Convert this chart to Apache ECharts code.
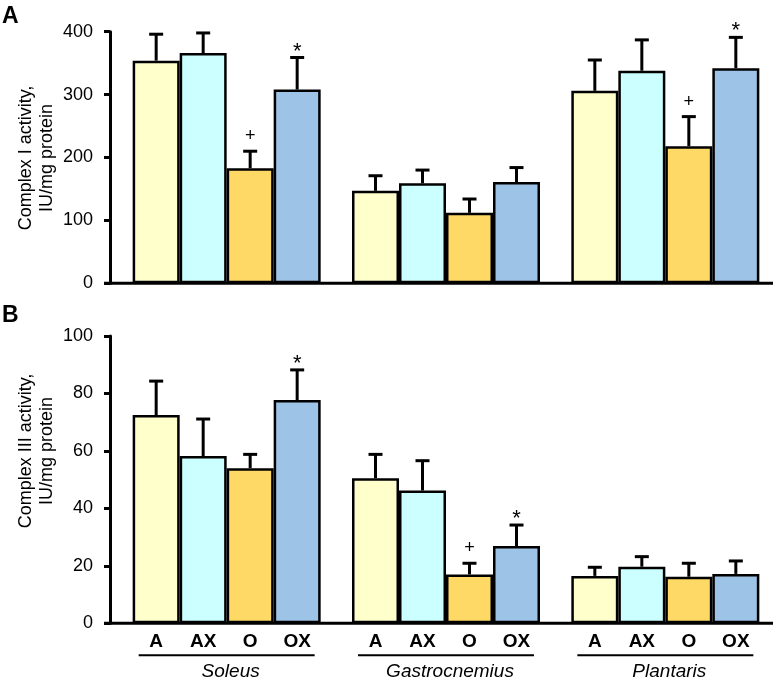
<!DOCTYPE html>
<html>
<head>
<meta charset="utf-8">
<script src="https://cdn.jsdelivr.net/npm/echarts@6/dist/echarts.min.js"></script>
<style>
html, body { margin: 0; padding: 0; background: #fff; }
#chart { width: 775px; height: 678px; }
</style>
</head>
<body>
<div id="chart"></div>
<script>
var muscles = ["Soleus", "Gastrocnemius", "Plantaris"];
var treatments = ["A", "AX", "O", "OX"];
var colors = ["#FFFFCC", "#CCFFFF", "#FFD966", "#9DC3E6"];

// Complex I activity (panel A)
var c1A  = [354, 147, 306];
var c1AX = [366, 159, 338];
var c1O  = [183, 112, 218];
var c1OX = [308, 161, 342];
var c1A_err  = [42, 24, 49];
var c1AX_err = [32, 21, 49];
var c1O_err  = [27, 22, 47];
var c1OX_err = [51, 23, 49];
var c1O_sig  = ["+", "", "+"];
var c1OX_sig = ["*", "", "*"];

// Complex III activity (panel B)
var c3A  = [72.5, 50.5, 16.5];
var c3AX = [58.2, 46.2, 19.7];
var c3O  = [54.0, 17.0, 16.2];
var c3OX = [77.7, 26.9, 17.2];
var c3A_err  = [11.8, 8.3, 3.0];
var c3AX_err = [12.9, 10.4, 3.5];
var c3O_err  = [4.8, 3.9, 4.7];
var c3OX_err = [10.5, 7.3, 4.5];
var c3O_sig  = ["", "+", ""];
var c3OX_sig = ["*", "*", ""];

var c1Ticks = [0, 100, 200, 300, 400];
var c3Ticks = [0, 20, 40, 60, 80, 100];

var FONT = '"Liberation Sans", Arial, sans-serif';
var BAR_W = 47;

var panels = [
    {values: [c1A, c1AX, c1O, c1OX], errs: [c1A_err, c1AX_err, c1O_err, c1OX_err],
     sigs: [null, null, c1O_sig, c1OX_sig]},
    {values: [c3A, c3AX, c3O, c3OX], errs: [c3A_err, c3AX_err, c3O_err, c3OX_err],
     sigs: [null, null, c3O_sig, c3OX_sig]}
];

function makeErrorRender(ti) {
    return function (params, api) {
        var cx = api.coord([api.value(0), 0])[0] + (ti - 1.5) * BAR_W;
        var top = api.coord([api.value(0), api.value(1)]);
        var tip = api.coord([api.value(0), api.value(1) + api.value(2)]);
        var sig = api.value(3);
        var children = [
            {type: "line", shape: {x1: cx, y1: top[1], x2: cx, y2: tip[1]},
             style: {stroke: "#000", lineWidth: 3}},
            {type: "line", shape: {x1: cx - 7, y1: tip[1], x2: cx + 7, y2: tip[1]},
             style: {stroke: "#000", lineWidth: 3}}
        ];
        if (sig === "*") {
            children.push({type: "text", x: cx, y: tip[1] - 6,
                style: {text: "*", font: "22px " + FONT, fill: "#000",
                        textAlign: "center", textVerticalAlign: "middle"}});
        } else if (sig === "+") {
            children.push({type: "text", x: cx, y: tip[1] - 15,
                style: {text: "+", font: "18px " + FONT, fill: "#000",
                        textAlign: "center", textVerticalAlign: "middle"}});
        }
        return {type: "group", children: children};
    };
}

var series = [];
for (var p = 0; p < panels.length; p++) {
    for (var ti = 0; ti < treatments.length; ti++) {
        series.push({
            name: treatments[ti],
            type: "bar",
            xAxisIndex: p,
            yAxisIndex: p,
            barWidth: BAR_W,
            barGap: "0%",
            data: panels[p].values[ti],
            itemStyle: {color: colors[ti], borderColor: "#000", borderWidth: 2.5},
            z: 2
        });
        var errData = [];
        for (var g = 0; g < muscles.length; g++) {
            var s = panels[p].sigs[ti] ? panels[p].sigs[ti][g] : "";
            errData.push([g, panels[p].values[ti][g], panels[p].errs[ti][g], s]);
        }
        series.push({
            type: "custom",
            xAxisIndex: p,
            yAxisIndex: p,
            renderItem: makeErrorRender(ti),
            dimensions: ["x", "y", "err", {name: "sig", type: "ordinal"}],
            encode: {x: 0, y: 1},
            data: errData,
            z: 3,
            silent: true
        });
    }
}

// bottom labels of panel B: treatment names, underline, muscle name
series.push({
    type: "custom",
    xAxisIndex: 1,
    yAxisIndex: 1,
    clip: false,
    silent: true,
    data: muscles.map(function (m, i) { return [i, 0]; }),
    renderItem: function (params, api) {
        var base = api.coord([api.value(0), 0]);
        var children = [];
        for (var t = 0; t < treatments.length; t++) {
            children.push({type: "text", x: base[0] + (t - 1.5) * BAR_W, y: base[1] + 18,
                style: {text: treatments[t], font: "bold 19px " + FONT, fill: "#000",
                        textAlign: "center", textVerticalAlign: "middle"}});
        }
        children.push({type: "line",
            shape: {x1: base[0] - 88, y1: base[1] + 32, x2: base[0] + 88, y2: base[1] + 32},
            style: {stroke: "#000", lineWidth: 2}});
        children.push({type: "text", x: base[0] + 4, y: base[1] + 48,
            style: {text: muscles[params.dataIndex], font: "italic 19px " + FONT, fill: "#000",
                    textAlign: "center", textVerticalAlign: "middle"}});
        return {type: "group", children: children};
    },
    z: 3
});

function yAxisOf(idx, ticks) {
    return {
        type: "value",
        gridIndex: idx,
        min: ticks[0],
        max: ticks[ticks.length - 1],
        interval: ticks[1] - ticks[0],
        offset: 7,
        axisLine: {show: true, lineStyle: {color: "#000", width: 3}},
        axisTick: {show: true, length: 6, lineStyle: {color: "#000", width: 3}},
        axisLabel: {fontSize: 18, color: "#000", fontFamily: FONT, margin: 17},
        splitLine: {show: false}
    };
}

function xAxisOf(idx) {
    return {
        type: "category",
        gridIndex: idx,
        data: muscles,
        axisLine: {show: false},
        axisTick: {show: false},
        axisLabel: {show: false}
    };
}

var chart = echarts.init(document.getElementById("chart"));
var option = {
    animation: false,
    backgroundColor: "#fff",
    grid: [
        {left: 117, width: 660, top: 31.7, height: 251.6},
        {left: 117, width: 660, top: 336, height: 287.3}
    ],
    xAxis: [xAxisOf(0), xAxisOf(1)],
    yAxis: [yAxisOf(0, c1Ticks), yAxisOf(1, c3Ticks)],
    series: series
};
chart.setOption(option);

// baselines and titles
var y0a = chart.convertToPixel({yAxisIndex: 0}, 0);
var y0b = chart.convertToPixel({yAxisIndex: 1}, 0);
chart.setOption({
    graphic: [
        {type: "line", shape: {x1: 104, y1: y0a, x2: 773, y2: y0a},
         style: {stroke: "#000", lineWidth: 3}, z: 10},
        {type: "line", shape: {x1: 104, y1: y0b, x2: 773, y2: y0b},
         style: {stroke: "#000", lineWidth: 3}, z: 10},
        {type: "text", x: 2, y: 5,
         style: {text: "A", font: "bold 23px " + FONT, fill: "#000"}},
        {type: "text", x: 2, y: 304,
         style: {text: "B", font: "bold 23px " + FONT, fill: "#000"}},
        {type: "text", x: 37, y: 158, rotation: Math.PI / 2,
         style: {text: "Complex I activity,\nIU/mg protein", font: "18px " + FONT,
                 fill: "#000", textAlign: "center", textVerticalAlign: "middle", lineHeight: 21}},
        {type: "text", x: 37, y: 451, rotation: Math.PI / 2,
         style: {text: "Complex III activity,\nIU/mg protein", font: "18px " + FONT,
                 fill: "#000", textAlign: "center", textVerticalAlign: "middle", lineHeight: 21}}
    ]
});
</script>
</body>
</html>
